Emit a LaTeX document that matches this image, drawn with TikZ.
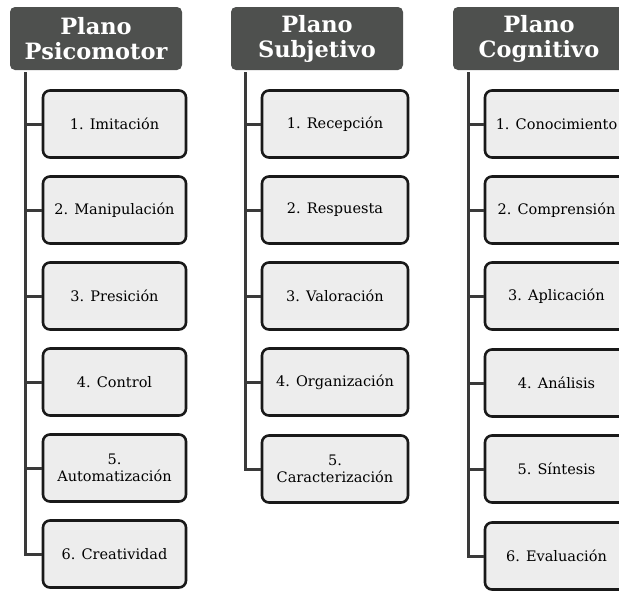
\documentclass[tikz,border=0pt]{standalone}
\usepackage{fontspec}
\setmainfont{DejaVu Serif}
\definecolor{headgray}{HTML}{4E504E}
\definecolor{boxgray}{HTML}{EDEDED}
\definecolor{linegray}{HTML}{3A3A3A}
\tikzset{
  headbox/.style={fill=headgray, rounded corners=5pt, minimum width=172pt, minimum height=63pt,
    inner sep=0pt, text=white, align=center, font=\fontsize{22.5}{25}\selectfont\bfseries},
  itembox/.style={draw=black!90, line width=2.6pt, fill=boxgray, rounded corners=7pt,
    minimum height=67pt, inner sep=0pt, align=center, font=\fontsize{14.5}{17}\selectfont},
  link/.style={draw=linegray, line width=3pt}
}
\begin{document}
\begin{tikzpicture}[x=1pt,y=-1pt]
\useasboundingbox (0,0) rectangle (619,590);
\clip (0,0) rectangle (619,590);
% headers
\node[headbox] (h1) at (96,38.5) {Plano\\Psicomotor};
\node[headbox] (h2) at (317,38.5) {Plano\\Subjetivo};
\node[headbox] (h3) at (539,38.5) {Plano\\Cognitivo};
% column 1
\begin{scope}[itembox/.append style={minimum width=143pt}]
\node[itembox] (a1) at (114.5,124) {1. Imitación};
\node[itembox] (a2) at (114.5,210) {2. Manipulación};
\node[itembox] (a3) at (114.5,296) {3. Presición};
\node[itembox] (a4) at (114.5,382) {4. Control};
\node[itembox] (a5) at (114.5,468) {5.\\Automatización};
\node[itembox] (a6) at (114.5,554) {6. Creatividad};
\end{scope}
% column 2
\begin{scope}[itembox/.append style={minimum width=146pt}]
\node[itembox] (b1) at (335,124) {1. Recepción};
\node[itembox] (b2) at (335,210) {2. Respuesta};
\node[itembox] (b3) at (335,296) {3. Valoración};
\node[itembox] (b4) at (335,382) {4. Organización};
\node[itembox] (b5) at (335,469) {5.\\Caracterización};
\end{scope}
% column 3
\begin{scope}[itembox/.append style={minimum width=143pt}]
\node[itembox] (c1) at (556.5,124) {1. Conocimiento};
\node[itembox] (c2) at (556.5,210) {2. Comprensión};
\node[itembox] (c3) at (556.5,296) {3. Aplicación};
\node[itembox] (c4) at (556.5,383) {4. Análisis};
\node[itembox] (c5) at (556.5,469) {5. Síntesis};
\node[itembox] (c6) at (556.5,556) {6. Evaluación};
\end{scope}
% connectors
\foreach \c in {a1,a2,a3,a4,a5,a6}
  \draw[link] ([xshift=16pt,yshift=-2pt]h1.south west) |- (\c.west);
\foreach \c in {b1,b2,b3,b4,b5}
  \draw[link] ([xshift=15pt,yshift=-2pt]h2.south west) |- (\c.west);
\foreach \c in {c1,c2,c3,c4,c5,c6}
  \draw[link] ([xshift=16pt,yshift=-2pt]h3.south west) |- (\c.west);
\end{tikzpicture}
\end{document}
